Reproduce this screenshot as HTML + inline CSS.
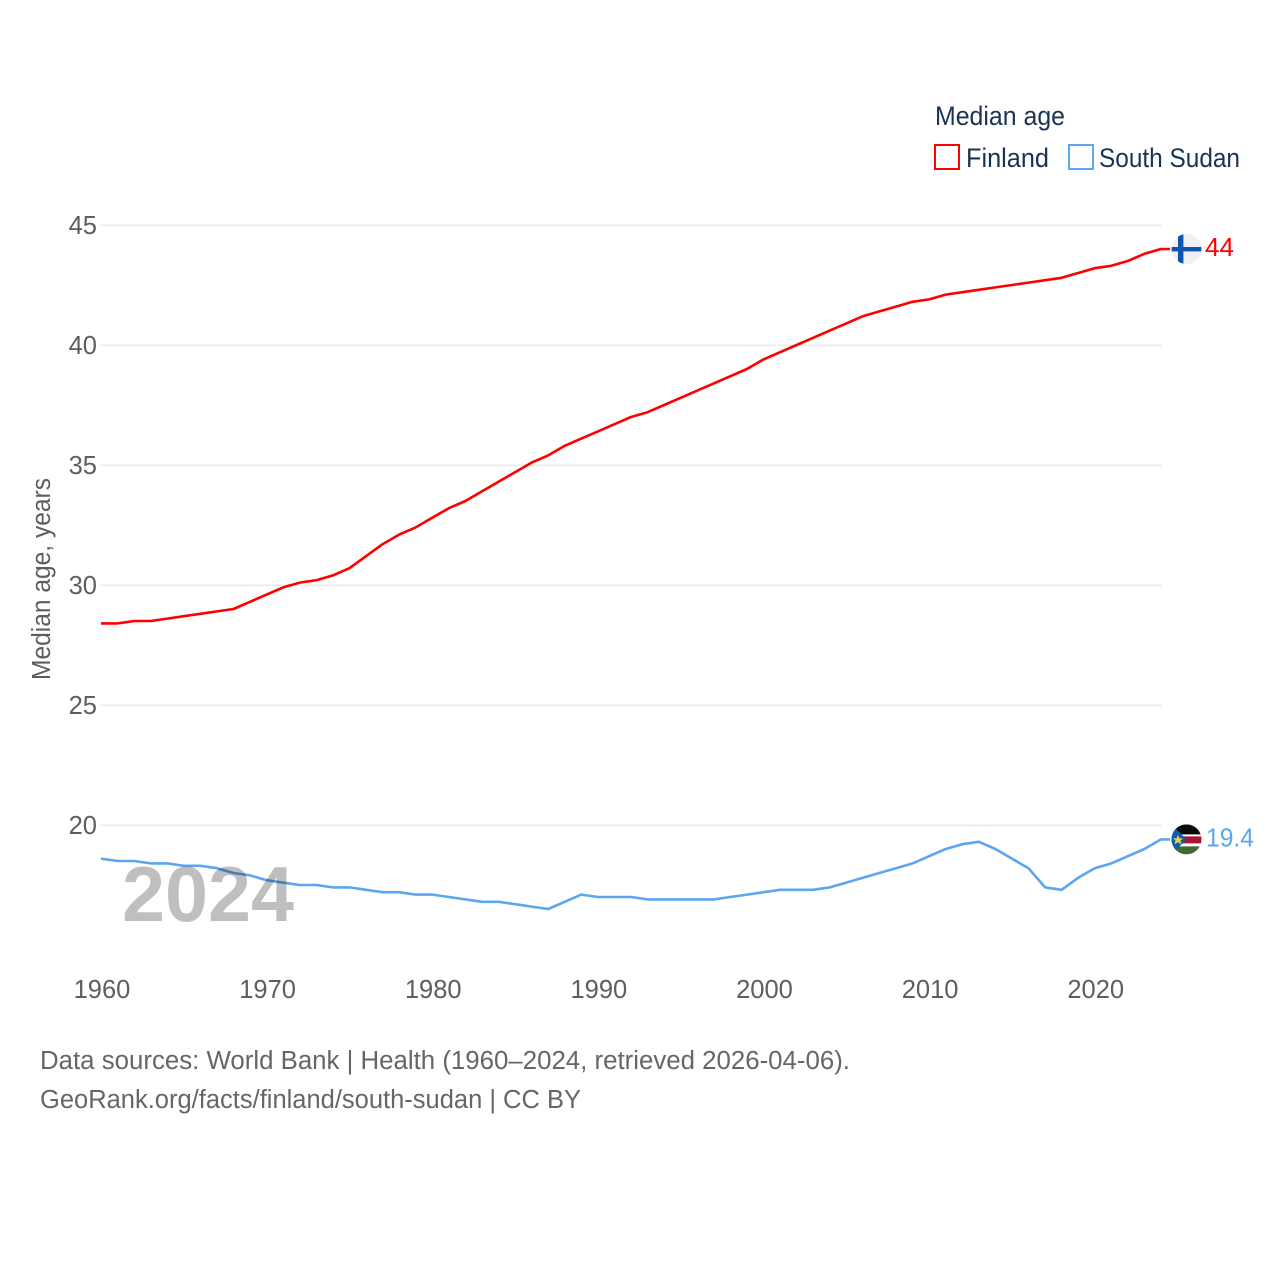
<!DOCTYPE html>
<html lang="en">
<head>
<meta charset="utf-8">
<title>Median age: Finland vs South Sudan</title>
<style>
html,body{margin:0;padding:0;background:#fff;}
svg{display:block;}
text{font-family:"Liberation Sans",sans-serif;}
.tick{font-size:25.5px;fill:#5e5e5e;}
</style>
</head>
<body>
<svg id="chart" xmlns="http://www.w3.org/2000/svg" width="1280" height="1280" viewBox="0 0 1280 1280">
  <rect width="1280" height="1280" fill="#fff"/>
  <g id="grid"></g>
  <g id="yticks"></g>
  <g id="xticks"></g>
  <text transform="translate(50,680) rotate(-90)" font-size="25.5" fill="#5e5e5e" textLength="202" lengthAdjust="spacingAndGlyphs">Median age, years</text>

  <text x="935" y="125" font-size="26.5" fill="#1a3354" textLength="130" lengthAdjust="spacingAndGlyphs">Median age</text>
  <g>
    <rect x="935" y="145" width="24" height="24" fill="none" stroke="#ff0000" stroke-width="2"/>
    <text x="966" y="167" font-size="26.5" fill="#1a3354" textLength="83" lengthAdjust="spacingAndGlyphs">Finland</text>
  </g>
  <g>
    <rect x="1069" y="145" width="24" height="24" fill="none" stroke="#5ca6ef" stroke-width="2"/>
    <text x="1099" y="167" font-size="26.5" fill="#1a3354" textLength="141" lengthAdjust="spacingAndGlyphs">South Sudan</text>
  </g>

  <path id="line-finland" fill="none" stroke="#ff0000" stroke-width="2.6" stroke-linejoin="round"/>
  <path id="line-south-sudan" fill="none" stroke="#5ca6ef" stroke-width="2.6" stroke-linejoin="round"/>

  <text x="122" y="921" font-size="78" font-weight="700" fill="#000" fill-opacity="0.25" textLength="172" lengthAdjust="spacingAndGlyphs">2024</text>

  <g id="flag-finland">
    <clipPath id="clip-fi"><circle cx="0" cy="0" r="15"/></clipPath>
    <g clip-path="url(#clip-fi)">
      <rect x="-15" y="-15" width="30" height="30" fill="#eef0f3"/>
      <rect x="-15" y="-2" width="30" height="4.4" fill="#0a56b0"/>
      <rect x="-8.5" y="-15" width="5.4" height="30" fill="#0a56b0"/>
    </g>
  </g>
  <g id="flag-south-sudan">
    <clipPath id="clip-ss"><circle cx="0" cy="0" r="15"/></clipPath>
    <g clip-path="url(#clip-ss)">
      <rect x="-15" y="-15" width="30" height="30" fill="#fff"/>
      <rect x="-15" y="-15" width="30" height="10" fill="#0c0c0c"/>
      <rect x="-15" y="-3" width="30" height="7" fill="#a6182e"/>
      <rect x="-15" y="7" width="30" height="8" fill="#44692f"/>
      <polygon points="-15,-15 0,0 -15,15" fill="#0a5db0"/>
      <polygon points="-8.5,-4.5 -7,-1 -3.5,-1 -6,1.2 -5,5 -8.5,2.8 -12,5 -11,1.2 -13.5,-1 -10,-1" fill="#f2cf3f"/>
    </g>
  </g>
  <text id="value-finland" x="1205" font-size="25.5" fill="#ff0000" textLength="29" lengthAdjust="spacingAndGlyphs"></text>
  <text id="value-south-sudan" x="1206" font-size="25.5" fill="#5ca6ef" textLength="48" lengthAdjust="spacingAndGlyphs"></text>

  <text x="40" y="1069" font-size="25.5" fill="#666" textLength="810" lengthAdjust="spacingAndGlyphs">Data sources: World Bank | Health (1960–2024, retrieved 2026-04-06).</text>
  <text x="40" y="1108" font-size="25.5" fill="#666" textLength="541" lengthAdjust="spacingAndGlyphs">GeoRank.org/facts/finland/south-sudan | CC BY</text>
</svg>
<script>
const years = [1960,1961,1962,1963,1964,1965,1966,1967,1968,1969,1970,1971,1972,1973,1974,1975,1976,1977,1978,1979,1980,1981,1982,1983,1984,1985,1986,1987,1988,1989,1990,1991,1992,1993,1994,1995,1996,1997,1998,1999,2000,2001,2002,2003,2004,2005,2006,2007,2008,2009,2010,2011,2012,2013,2014,2015,2016,2017,2018,2019,2020,2021,2022,2023,2024];
const finland = [28.4,28.4,28.5,28.5,28.6,28.7,28.8,28.9,29.0,29.3,29.6,29.9,30.1,30.2,30.4,30.7,31.2,31.7,32.1,32.4,32.8,33.2,33.5,33.9,34.3,34.7,35.1,35.4,35.8,36.1,36.4,36.7,37.0,37.2,37.5,37.8,38.1,38.4,38.7,39.0,39.4,39.7,40.0,40.3,40.6,40.9,41.2,41.4,41.6,41.8,41.9,42.1,42.2,42.3,42.4,42.5,42.6,42.7,42.8,43.0,43.2,43.3,43.5,43.8,44.0];
const southSudan = [18.6,18.5,18.5,18.4,18.4,18.3,18.3,18.2,18.0,17.9,17.7,17.6,17.5,17.5,17.4,17.4,17.3,17.2,17.2,17.1,17.1,17.0,16.9,16.8,16.8,16.7,16.6,16.5,16.8,17.1,17.0,17.0,17.0,16.9,16.9,16.9,16.9,16.9,17.0,17.1,17.2,17.3,17.3,17.3,17.4,17.6,17.8,18.0,18.2,18.4,18.7,19.0,19.2,19.3,19.0,18.6,18.2,17.4,17.3,17.8,18.2,18.4,18.7,19.0,19.4];
const yTickValues = [20,25,30,35,40,45];
const xTickValues = [1960,1970,1980,1990,2000,2010,2020];
const finlandLabel = "44";
const southSudanLabel = "19.4";

const NS = "http://www.w3.org/2000/svg";
function xScale(year){ return 101 + (year - 1960) * (1161 - 101) / (2024 - 1960); }
function yScale(v){ return 825 - (v - 20) * 24; }
function linePath(values){
  let d = "";
  values.forEach(function(v,i){ d += (i ? "L" : "M") + xScale(years[i]).toFixed(2) + " " + yScale(v).toFixed(2); });
  const last = values[values.length-1];
  d += "L1170 " + yScale(last).toFixed(2);
  return d;
}

const grid = document.getElementById("grid");
const yG = document.getElementById("yticks");
const xG = document.getElementById("xticks");

yTickValues.forEach(function(t){
  const l = document.createElementNS(NS,"line");
  
  
  l.setAttribute("x1",101); l.setAttribute("x2",1161.5);
  l.setAttribute("y1",yScale(t)+0.25); l.setAttribute("y2",yScale(t)+0.25);
  l.setAttribute("stroke","#e6e6e6"); l.setAttribute("stroke-width","1.2");
  grid.appendChild(l);
  const s = document.createElementNS(NS,"text");
  
  
  s.setAttribute("class","tick");
  s.setAttribute("x",97); s.setAttribute("y",yScale(t)+9);
  s.setAttribute("text-anchor","end");
  s.textContent = t;
  yG.appendChild(s);
});

xTickValues.forEach(function(t){
  const s = document.createElementNS(NS,"text");
  
  
  s.setAttribute("class","tick");
  s.setAttribute("x",xScale(t)+1); s.setAttribute("y",998);
  s.setAttribute("text-anchor","middle");
  s.textContent = t;
  xG.appendChild(s);
});

document.getElementById("line-finland").setAttribute("d",linePath(finland));
document.getElementById("line-south-sudan").setAttribute("d",linePath(southSudan));

const yFi = yScale(finland[finland.length-1]);
const ySs = yScale(southSudan[southSudan.length-1]);
document.getElementById("flag-finland").setAttribute("transform","translate(1186.5,"+yFi+")");
document.getElementById("flag-south-sudan").setAttribute("transform","translate(1186.5,"+ySs+")");
const vFi = document.getElementById("value-finland");
vFi.setAttribute("y",yFi+7); vFi.textContent = finlandLabel;
const vSs = document.getElementById("value-south-sudan");
vSs.setAttribute("y",ySs+7); vSs.textContent = southSudanLabel;
</script>
</body>
</html>
